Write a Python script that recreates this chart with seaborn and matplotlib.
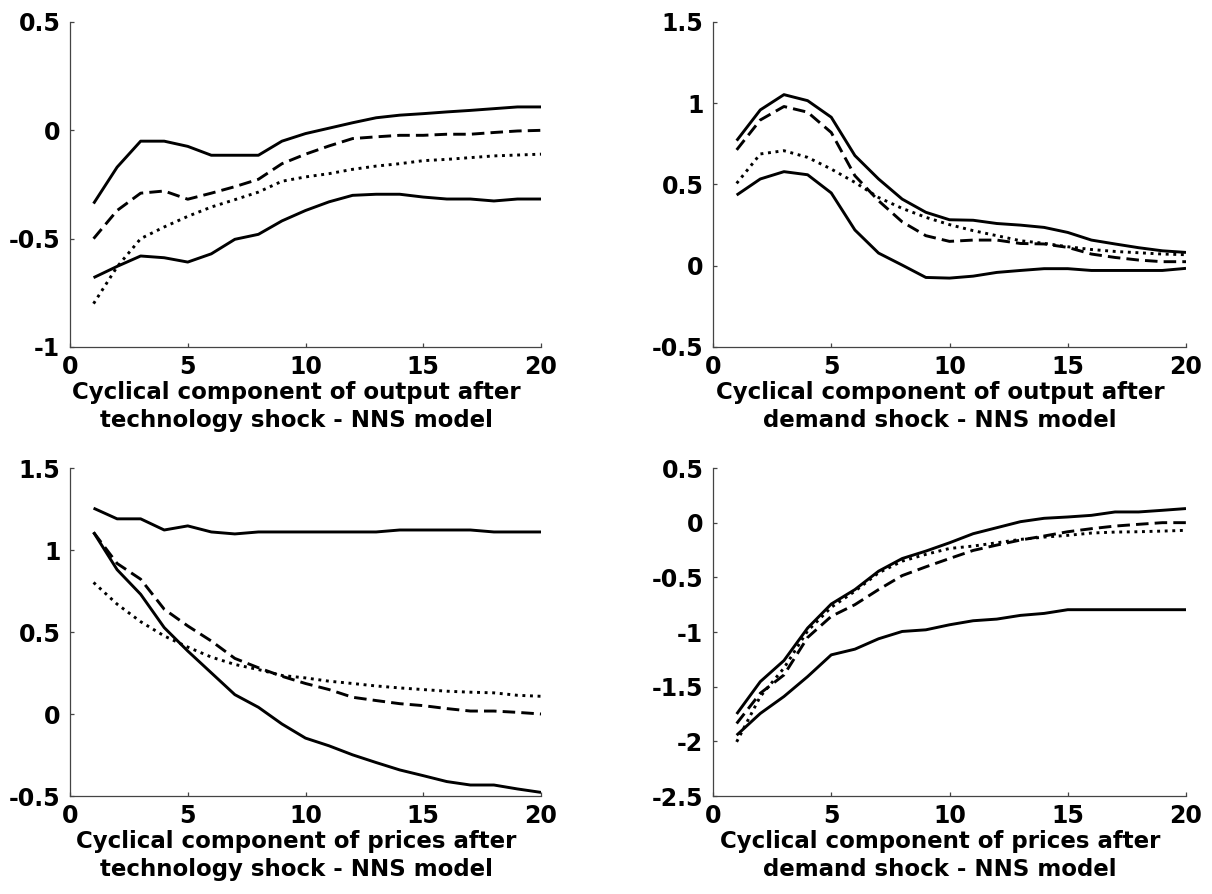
import numpy as np
import pandas as pd
import matplotlib
matplotlib.use("Agg")
import matplotlib.pyplot as plt
import seaborn as sns

periods = list(range(1, 21))

# Panel 1: output after technology shock
out_tech_upper = [-0.338, -0.17, -0.05, -0.05, -0.074, -0.115, -0.115, -0.115, -0.05, -0.015,
                  0.01, 0.035, 0.058, 0.07, 0.077, 0.085, 0.092, 0.1, 0.108, 0.108]
out_tech_mean = [-0.5, -0.37, -0.29, -0.28, -0.318, -0.29, -0.26, -0.226, -0.154, -0.11,
                 -0.072, -0.038, -0.03, -0.023, -0.023, -0.018, -0.018, -0.01, -0.003, 0.0]
out_tech_model = [-0.80, -0.63, -0.5, -0.446, -0.397, -0.354, -0.32, -0.285, -0.235, -0.215,
                  -0.2, -0.18, -0.165, -0.154, -0.14, -0.134, -0.126, -0.118, -0.114, -0.11]
out_tech_lower = [-0.68, -0.628, -0.58, -0.588, -0.608, -0.57, -0.503, -0.48, -0.418, -0.37,
                  -0.33, -0.3, -0.295, -0.295, -0.308, -0.317, -0.317, -0.326, -0.317, -0.317]

# Panel 2: output after demand shock
out_dem_upper = [0.77, 0.959, 1.053, 1.016, 0.914, 0.678, 0.534, 0.41, 0.329, 0.283,
                 0.28, 0.26, 0.25, 0.236, 0.205, 0.158, 0.134, 0.111, 0.092, 0.082]
out_dem_mean = [0.713, 0.897, 0.98, 0.945, 0.82, 0.554, 0.4, 0.27, 0.185, 0.15,
                0.158, 0.158, 0.137, 0.134, 0.113, 0.072, 0.051, 0.035, 0.025, 0.025]
out_dem_model = [0.507, 0.688, 0.708, 0.667, 0.595, 0.513, 0.42, 0.353, 0.298, 0.253,
                 0.216, 0.185, 0.154, 0.138, 0.117, 0.1, 0.088, 0.08, 0.072, 0.068]
out_dem_lower = [0.435, 0.534, 0.579, 0.56, 0.448, 0.22, 0.078, 0.004, -0.072, -0.076,
                 -0.064, -0.041, -0.029, -0.018, -0.018, -0.029, -0.029, -0.029, -0.029, -0.016]

# Panel 3: prices after technology shock
pr_tech_upper = [1.255, 1.19, 1.19, 1.122, 1.147, 1.11, 1.098, 1.11, 1.11, 1.11,
                 1.11, 1.11, 1.11, 1.122, 1.122, 1.122, 1.122, 1.11, 1.11, 1.11]
pr_tech_mean = [1.108, 0.918, 0.822, 0.639, 0.537, 0.445, 0.339, 0.282, 0.23, 0.186,
                0.149, 0.102, 0.082, 0.063, 0.051, 0.033, 0.018, 0.018, 0.01, 0.0]
pr_tech_model = [0.802, 0.67, 0.563, 0.476, 0.408, 0.347, 0.302, 0.271, 0.235, 0.22,
                 0.2, 0.186, 0.171, 0.159, 0.149, 0.139, 0.133, 0.129, 0.114, 0.108]
pr_tech_lower = [1.108, 0.88, 0.73, 0.527, 0.384, 0.251, 0.118, 0.041, -0.061, -0.147,
                 -0.194, -0.249, -0.296, -0.341, -0.376, -0.412, -0.433, -0.433, -0.457, -0.478]

# Panel 4: prices after demand shock
pr_dem_upper = [-1.75, -1.454, -1.261, -0.964, -0.744, -0.612, -0.444, -0.328, -0.26, -0.184,
                -0.101, -0.046, 0.009, 0.04, 0.052, 0.067, 0.098, 0.098, 0.113, 0.129]
pr_dem_mean = [-1.837, -1.56, -1.393, -1.05, -0.857, -0.75, -0.612, -0.484, -0.404, -0.328,
               -0.254, -0.205, -0.159, -0.122, -0.083, -0.055, -0.031, -0.015, 0.0, 0.0]
pr_dem_model = [-2.005, -1.59, -1.33, -0.99, -0.774, -0.627, -0.459, -0.352, -0.29, -0.236,
                -0.214, -0.184, -0.153, -0.132, -0.116, -0.095, -0.086, -0.083, -0.077, -0.07]
pr_dem_lower = [-1.944, -1.745, -1.59, -1.408, -1.209, -1.157, -1.062, -0.995, -0.98, -0.934,
                -0.897, -0.882, -0.848, -0.83, -0.796, -0.796, -0.796, -0.796, -0.796, -0.796]

titles = [
    "Cyclical component of output after\ntechnology shock - NNS model",
    "Cyclical component of output after\ndemand shock - NNS model",
    "Cyclical component of prices after\ntechnology shock - NNS model",
    "Cyclical component of prices after\ndemand shock - NNS model",
]
y_limits = [(-1, 0.5), (-0.5, 1.5), (-0.5, 1.5), (-2.5, 0.5)]
y_ticks = [[-1, -0.5, 0, 0.5], [-0.5, 0, 0.5, 1, 1.5], [-0.5, 0, 0.5, 1, 1.5],
           [-2.5, -2, -1.5, -1, -0.5, 0, 0.5]]
x_ticks = [0, 5, 10, 15, 20]

panels = [
    (out_tech_upper, out_tech_mean, out_tech_model, out_tech_lower),
    (out_dem_upper, out_dem_mean, out_dem_model, out_dem_lower),
    (pr_tech_upper, pr_tech_mean, pr_tech_model, pr_tech_lower),
    (pr_dem_upper, pr_dem_mean, pr_dem_model, pr_dem_lower),
]

sns.set_theme(style="ticks")
plt.rcParams["font.family"] = ["DejaVu Sans"]

fig = plt.figure(figsize=(12.12, 8.94), dpi=100)
positions = [
    [70 / 1212, 1 - 347 / 894, 471 / 1212, 325 / 894],
    [713 / 1212, 1 - 347 / 894, 473 / 1212, 325 / 894],
    [70 / 1212, 1 - 796 / 894, 471 / 1212, 328 / 894],
    [713 / 1212, 1 - 796 / 894, 473 / 1212, 328 / 894],
]

def fmt(v):
    if float(v).is_integer():
        return str(int(v))
    return f"{v:g}"

for i, (upper, mean, model, lower) in enumerate(panels):
    ax = fig.add_axes(positions[i])
    df = pd.DataFrame({"t": periods, "upper": upper, "mean": mean, "model": model, "lower": lower})
    sns.lineplot(data=df, x="t", y="upper", ax=ax, color="black", lw=2.1)
    sns.lineplot(data=df, x="t", y="lower", ax=ax, color="black", lw=2.1)
    sns.lineplot(data=df, x="t", y="mean", ax=ax, color="black", lw=2.1)
    ax.lines[-1].set_dashes((4.3, 2.1))
    sns.lineplot(data=df, x="t", y="model", ax=ax, color="black", lw=2.1)
    ax.lines[-1].set_dashes((1.0, 1.6))
    for ln in ax.lines:
        ln.set_solid_capstyle("butt")
        ln.set_dash_capstyle("butt")
        ln.set_solid_joinstyle("round")
    ax.set_xlim(0, 20)
    ax.set_ylim(*y_limits[i])
    ax.set_xticks(x_ticks)
    ax.set_xticklabels([fmt(v) for v in x_ticks])
    ax.set_yticks(y_ticks[i])
    ax.set_yticklabels([fmt(v) for v in y_ticks[i]])
    ax.set_ylabel("")
    ax.set_xlabel(titles[i], fontsize=16.5, fontweight="bold", linespacing=1.3,
                  labelpad=1, color="black")
    ax.xaxis.label.set_x(0.48)
    sns.despine(ax=ax)
    for sp in ["left", "bottom"]:
        ax.spines[sp].set_color("#444444")
        ax.spines[sp].set_linewidth(0.9)
    ax.tick_params(direction="in", length=3, width=0.9, color="#444444",
                   labelsize=17, labelcolor="black")
    ax.tick_params(axis="y", pad=7)
    ax.tick_params(axis="x", pad=6)
    for lab in ax.get_xticklabels() + ax.get_yticklabels():
        lab.set_fontweight("bold")

fig.savefig("out.png", dpi=100)
